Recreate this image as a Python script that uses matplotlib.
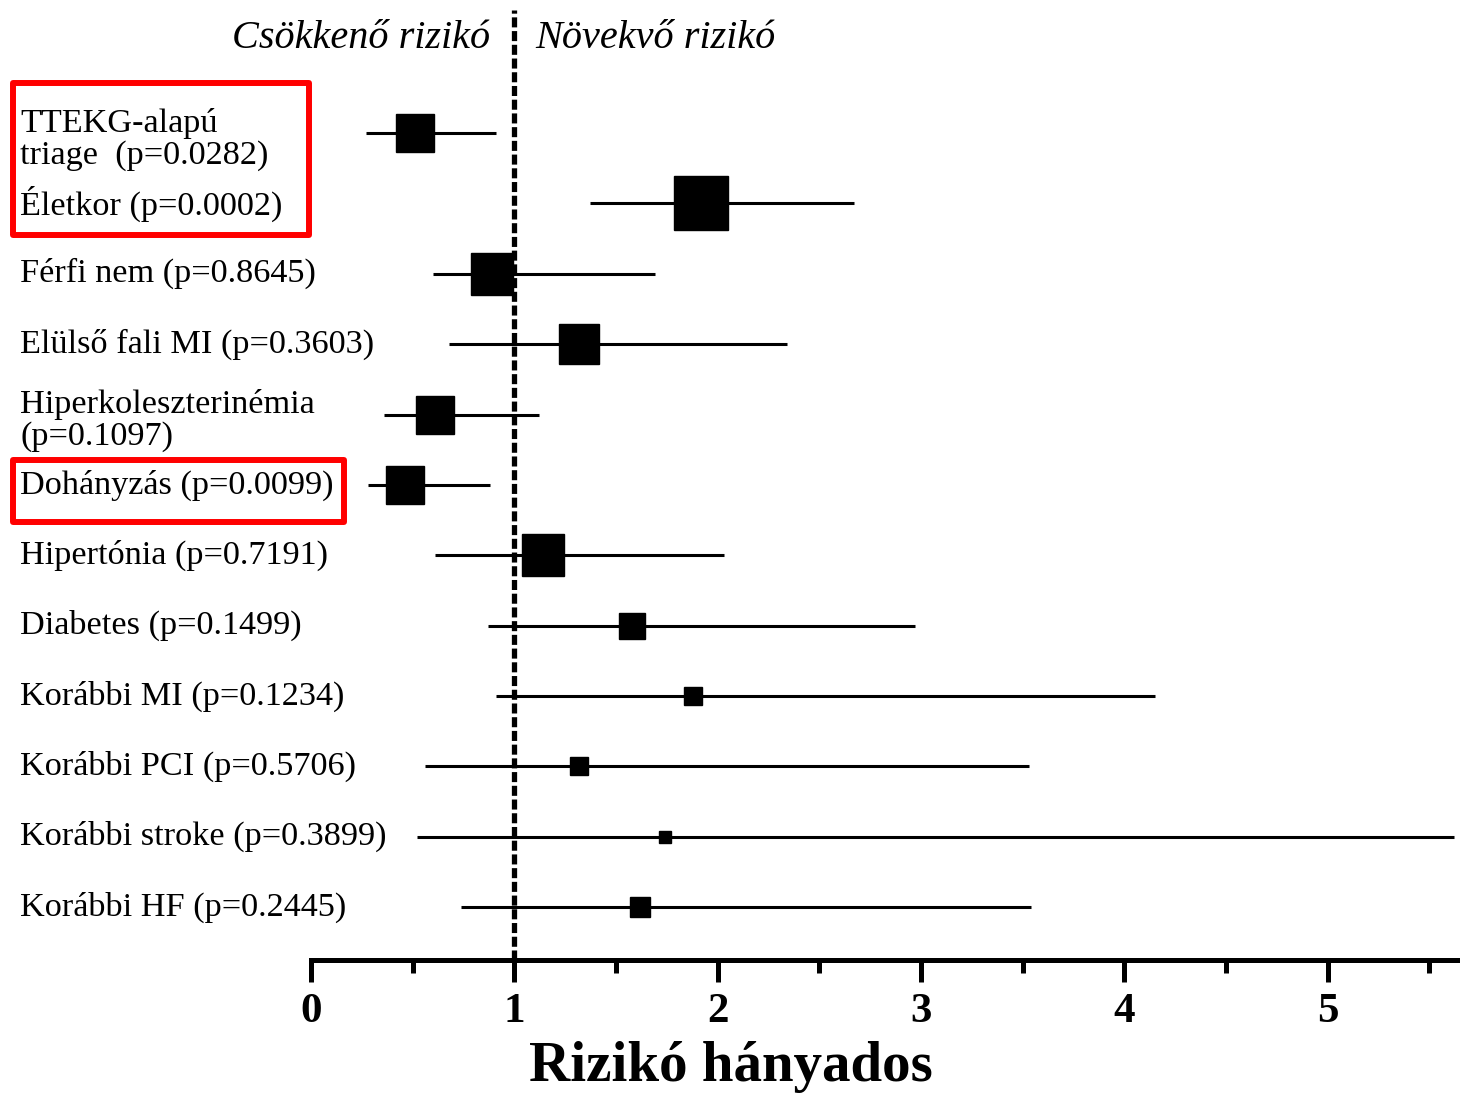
import matplotlib.pyplot as plt
from matplotlib.patches import Rectangle
from matplotlib.transforms import blended_transform_factory

labels = ["TTEKG-alapú\ntriage  (p=0.0282)", "Életkor (p=0.0002)", "Férfi nem (p=0.8645)",
          "Elülső fali MI (p=0.3603)", "Hiperkoleszterinémia\n(p=0.1097)", "Dohányzás (p=0.0099)",
          "Hipertónia (p=0.7191)", "Diabetes (p=0.1499)", "Korábbi MI (p=0.1234)",
          "Korábbi PCI (p=0.5706)", "Korábbi stroke (p=0.3899)", "Korábbi HF (p=0.2445)"]
hr = [0.51, 1.92, 0.89, 1.32, 0.61, 0.46, 1.14, 1.58, 1.88, 1.32, 1.74, 1.62]
ci_low = [0.27, 1.37, 0.60, 0.68, 0.36, 0.28, 0.61, 0.87, 0.91, 0.56, 0.52, 0.74]
ci_high = [0.91, 2.67, 1.69, 2.34, 1.12, 0.88, 2.03, 2.97, 4.15, 3.53, 5.62, 3.54]

# box side in pixels
box_px = [38, 54, 42, 41, 38, 38, 42, 27, 19, 19, 13, 20]

plt.rcParams['font.family'] = ['Liberation Serif', 'DejaVu Serif']

fig = plt.figure(figsize=(14.6, 10.94), dpi=100)
W, H = 1460, 1094
ax = fig.add_axes([311 / W, 134 / H, 1 - 311 / W, (960 - 10) / H])

rows = list(range(len(labels)))
for i in rows:
    ax.plot([ci_low[i], ci_high[i]], [i, i], color='black', lw=2.2, solid_capstyle='butt', zorder=2)
    ax.plot(hr[i], i, marker='s', color='black', markersize=box_px[i] / 1.389, zorder=3)

ax.axvline(1, color='black', lw=3.8, dashes=(1.9, 0.7), zorder=1)

ax.set_xlim(0, 5.65)
ax.set_ylim(len(labels) - 1 + 0.753, -1.75)
ax.set_yticks([])
for s in ['top', 'right', 'left']:
    ax.spines[s].set_visible(False)
ax.spines['bottom'].set_linewidth(3.6)

ax.set_xticks([0, 1, 2, 3, 4, 5])
ax.set_xticks([0.5, 1.5, 2.5, 3.5, 4.5, 5.5], minor=True)
ax.tick_params(axis='x', which='major', length=16, width=3.6, pad=8, labelsize=31)
ax.tick_params(axis='x', which='minor', length=9, width=3.6)
for t in ax.get_xticklabels():
    t.set_fontweight('bold')

ax.set_xlabel("Rizikó hányados", fontsize=41, fontweight='bold')
ax.xaxis.set_label_coords((731 - 311) / (W - 311), -0.085)

tr = blended_transform_factory(fig.transFigure, ax.transData)
for i in rows:
    # two-line labels sit a little lower than the row
    dy = 0.09 if "\n" in labels[i] else 0
    ax.text(20 / W, i + dy, labels[i], transform=tr, fontsize=24.7, va='center', ha='left',
            linespacing=1.05, clip_on=False)

fig.text(490 / W, 1 - 39 / H, "Csökkenő rizikó", fontsize=29, style='italic', ha='right', va='center')
fig.text(535 / W, 1 - 39 / H, "Növekvő rizikó", fontsize=29, style='italic', ha='left', va='center')

# red highlight boxes
for x0, y0, x1, y1 in [(13, 83, 309, 235), (13, 460, 344, 522)]:
    fig.patches.append(Rectangle((x0 / W, 1 - y1 / H), (x1 - x0) / W, (y1 - y0) / H,
                                 transform=fig.transFigure, fill=False, edgecolor='#ff0000',
                                 lw=4.3, joinstyle='round'))

fig.savefig("out.png", dpi=100)
